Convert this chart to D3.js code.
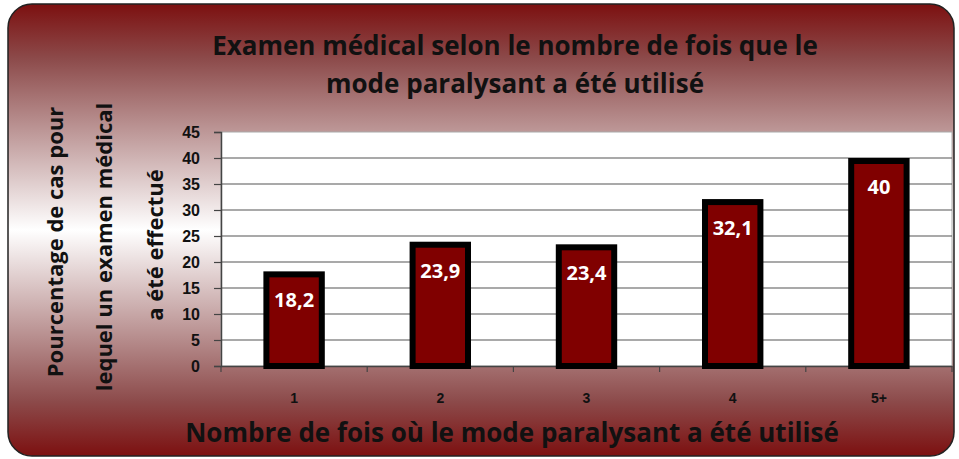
<!DOCTYPE html>
<html>
<head>
<meta charset="utf-8">
<script src="https://cdn.jsdelivr.net/npm/d3@7"></script>
<style>
  body { margin: 0; background: #fff; }
  svg { display: block; font-family: "Open Sans", "DejaVu Sans", sans-serif; }
</style>
</head>
<body>
<svg id="chart" width="959" height="459"></svg>
<script>
// chart data
var categories = ["1", "2", "3", "4", "5+"];
var values = [18.2, 23.9, 23.4, 32.1, 40];
var valueLabels = ["18,2", "23,9", "23,4", "32,1", "40"];
var yTicks = [0, 5, 10, 15, 20, 25, 30, 35, 40, 45];

var svg = d3.select("#chart");
var W = 959, H = 459;
var margin = { left: 221, right: 7, top: 132, bottom: 93 };
var plotW = W - margin.left - margin.right;
var plotH = H - margin.top - margin.bottom;

// background gradient
var defs = svg.append("defs");
var grad = defs.append("linearGradient").attr("id", "bg").attr("x1", 0).attr("y1", 0).attr("x2", 0).attr("y2", 1);
grad.append("stop").attr("offset", "0%").attr("stop-color", "#7c1010");
grad.append("stop").attr("offset", "12%").attr("stop-color", "#8c4a4a");
grad.append("stop").attr("offset", "50%").attr("stop-color", "#ffffff");
grad.append("stop").attr("offset", "88%").attr("stop-color", "#8c4a4a");
grad.append("stop").attr("offset", "100%").attr("stop-color", "#7c1010");

svg.append("rect").attr("width", W).attr("height", H).attr("fill", "#fff");
svg.append("rect")
    .attr("x", 8).attr("y", 4).attr("width", 946).attr("height", 452)
    .attr("rx", 24).attr("ry", 24)
    .attr("fill", "url(#bg)")
    .attr("stroke", "#222").attr("stroke-width", 1.5);

var x = d3.scaleBand().domain(categories).range([0, plotW]).paddingInner(0.58).paddingOuter(0.29);
var y = d3.scaleLinear().domain([0, 45]).range([plotH, 0]);

var g = svg.append("g").attr("transform", "translate(" + margin.left + "," + margin.top + ")");

g.append("rect").attr("width", plotW).attr("height", plotH)
    .attr("fill", "#fff").attr("stroke", "#aaa").attr("stroke-width", 1);

// gridlines
g.selectAll(".grid").data(yTicks.filter(function (d) { return d > 0 && d < 45; }))
    .enter().append("line")
    .attr("x1", 0).attr("x2", plotW)
    .attr("y1", function (d) { return y(d); }).attr("y2", function (d) { return y(d); })
    .attr("stroke", "#555").attr("stroke-width", 1.2);

// y axis
var yAxis = g.append("g").call(d3.axisLeft(y).tickValues(yTicks).tickSize(7).tickPadding(14));
yAxis.select(".domain").attr("stroke", "#444").attr("stroke-width", 1.5);
yAxis.selectAll(".tick line").attr("stroke", "#444").attr("stroke-width", 1.2);
yAxis.selectAll("text").attr("font-size", 16).attr("font-weight", "bold").attr("fill", "#111");

// x axis with ticks at band boundaries
var xAxis = g.append("g").attr("transform", "translate(0," + plotH + ")")
    .call(d3.axisBottom(x).tickSize(0).tickPadding(27));
xAxis.select(".domain").attr("stroke", "#444").attr("stroke-width", 1.5);
xAxis.selectAll("text").attr("font-size", 14).attr("font-weight", "bold").attr("fill", "#111");
var step = plotW / categories.length;
g.selectAll(".xtick").data(d3.range(categories.length + 1)).enter().append("line")
    .attr("x1", function (i) { return i * step; }).attr("x2", function (i) { return i * step; })
    .attr("y1", plotH).attr("y2", plotH + 6)
    .attr("stroke", "#444").attr("stroke-width", 1.2);

// bars
g.selectAll(".bar").data(values).enter().append("rect")
    .attr("x", function (d, i) { return x(categories[i]) + 3; })
    .attr("y", function (d) { return y(d) + 3; })
    .attr("width", x.bandwidth() - 6)
    .attr("height", function (d) { return plotH - y(d) - 3; })
    .attr("fill", "#800000").attr("stroke", "#000").attr("stroke-width", 6);

g.selectAll(".val").data(values).enter().append("text")
    .attr("x", function (d, i) { return x(categories[i]) + x.bandwidth() / 2; })
    .attr("y", function (d) { return y(d) + 36; })
    .attr("text-anchor", "middle")
    .attr("fill", "#fff").attr("font-size", 20).attr("font-weight", "bold")
    .text(function (d, i) { return valueLabels[i]; });

// titles
var title = svg.append("text").attr("x", 515).attr("text-anchor", "middle")
    .attr("font-size", 26).attr("font-weight", "bold").attr("fill", "#111");
title.append("tspan").attr("x", 515).attr("y", 55).text("Examen médical selon le nombre de fois que le");
title.append("tspan").attr("x", 515).attr("y", 93).text("mode paralysant a été utilisé");

var yTitleLines = ["Pourcentage de cas pour", "lequel un examen médical", "a été effectué"];
var yTitleX = [63, 112, 163];
var yTitleY = [242, 247, 245];
svg.selectAll(".ytitle").data(yTitleLines).enter().append("text")
    .attr("transform", function (d, i) { return "translate(" + yTitleX[i] + "," + yTitleY[i] + ") rotate(-90)"; })
    .attr("text-anchor", "middle")
    .attr("font-size", 22).attr("font-weight", "bold").attr("fill", "#111")
    .text(function (d) { return d; });

svg.append("text").attr("x", 512).attr("y", 442).attr("text-anchor", "middle")
    .attr("font-size", 26).attr("font-weight", "bold").attr("fill", "#111")
    .text("Nombre de fois où le mode paralysant a été utilisé");
</script>
</body>
</html>
